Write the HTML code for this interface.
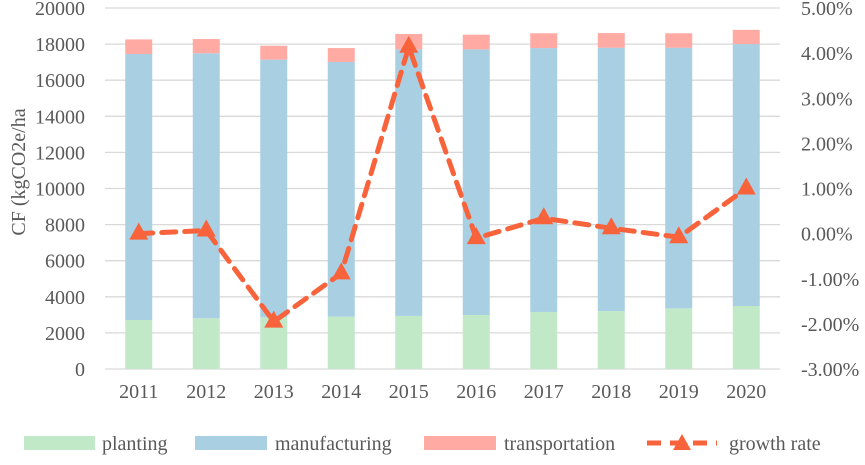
<!DOCTYPE html>
<html><head><meta charset="utf-8"><style>
html,body{margin:0;padding:0;background:#fff;}
svg text{font-family:"Liberation Serif",serif;fill:#595959;}
</style></head><body>
<svg id="chart" width="865" height="460" xmlns="http://www.w3.org/2000/svg">
<g id="grid"></g>
<g id="bars"></g>
<g id="line"></g>
<g id="axes"></g>
<text transform="translate(25,172) rotate(-90)" text-anchor="middle" font-size="20">CF (kgCO2e/ha</text>
<g font-size="20">
 <g><rect x="24" y="436" width="71" height="14" fill="#c1e9c8"/><text x="102" y="450">planting</text></g>
 <g><rect x="195" y="436" width="72" height="14" fill="#a9cfe3"/><text x="275" y="450">manufacturing</text></g>
 <g><rect x="424" y="436" width="72" height="14" fill="#ffaaa3"/><text x="504" y="450">transportation</text></g>
 <g><line x1="647" y1="443" x2="717" y2="443" stroke="#f8633c" stroke-width="5" stroke-dasharray="14,9"/><polygon points="682,434 691,450 673,450" fill="#f8633c"/><text x="729" y="450">growth rate</text></g>
</g>
</svg>
<script>
const years=["2011","2012","2013","2014","2015","2016","2017","2018","2019","2020"];
const planting=[2715,2810,2870,2900,2940,2990,3160,3210,3360,3490];
const manufacturing=[14735,14680,14270,14110,14770,14720,14620,14590,14440,14510];
const transportation=[810,790,770,770,850,810,820,810,800,790];
const growthRate=[0.00,0.07,-1.95,-0.88,4.14,-0.10,0.34,0.12,-0.08,1.00];
const leftTicks=[0,2000,4000,6000,8000,10000,12000,14000,16000,18000,20000];
const rightTicks=["-3.00%","-2.00%","-1.00%","0.00%","1.00%","2.00%","3.00%","4.00%","5.00%"];

const NS="http://www.w3.org/2000/svg";
const X0=105,X1=780,Y0=369,Y1=8;
const step=(X1-X0)/years.length;
const xc=i=>X0+step*(i+0.5);
const yL=v=>Y0-(v/20000)*(Y0-Y1);
const yR=p=>Y0-((p+3)/8)*(Y0-Y1);
function mk(tag,attrs,parent){const e=document.createElementNS(NS,tag);for(const k in attrs)e.setAttribute(k,attrs[k]);parent.appendChild(e);return e;}
const grid=document.getElementById('grid'),bars=document.getElementById('bars'),line=document.getElementById('line'),axes=document.getElementById('axes');
leftTicks.forEach(v=>{
 const g=mk('line',{x1:X0,x2:X1,y1:yL(v),y2:yL(v),stroke:'#d9d9d9','stroke-width':1.3},grid);
 
 
 const t=mk('text',{x:85,y:yL(v)+7,'text-anchor':'end','font-size':20},axes);t.textContent=v;
 
 
});
rightTicks.forEach((s,i)=>{
 const t=mk('text',{x:801,y:yR(i-3)+7,'font-size':20},axes);t.textContent=s;
 
 
});
const bw=27;
years.forEach((y,i)=>{
 const x=xc(i)-bw/2;
 const a=planting[i],b=manufacturing[i],c=transportation[i];
 const r1=mk('rect',{x:x,y:yL(a),width:bw,height:yL(0)-yL(a),fill:'#c1e9c8'},bars);
 
 
 const r2=mk('rect',{x:x,y:yL(a+b),width:bw,height:yL(a)-yL(a+b),fill:'#a9cfe3'},bars);
 
 
 const r3=mk('rect',{x:x,y:yL(a+b+c),width:bw,height:yL(a+b)-yL(a+b+c),fill:'#ffaaa3'},bars);
 
 
 const t=mk('text',{x:xc(i),y:398,'text-anchor':'middle','font-size':20},axes);t.textContent=y;
 
 
});
const pts=growthRate.map((p,i)=>xc(i)+','+yR(p)).join(' ');
const pl=mk('polyline',{points:pts,fill:'none',stroke:'#f8633c','stroke-width':5,'stroke-dasharray':'14,9','stroke-linejoin':'round','stroke-linecap':'round'},line);


growthRate.forEach((p,i)=>{
 const cx=xc(i),cy=yR(p);
 const m=mk('polygon',{points:`${cx},${cy-11} ${cx+9.5},${cy+6} ${cx-9.5},${cy+6}`,fill:'#f8633c'},line);
 
 
});
</script>
</body></html>
